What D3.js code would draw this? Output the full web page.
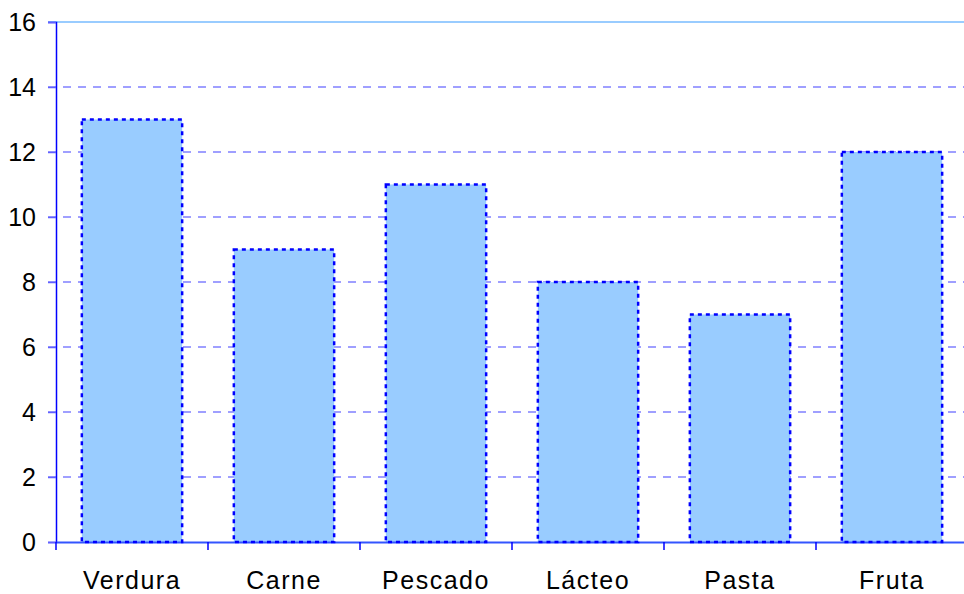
<!DOCTYPE html>
<html>
<head>
<meta charset="utf-8">
<script src="https://cdn.jsdelivr.net/npm/d3@7"></script>
<style>
  body { margin: 0; background: #fff; }
  text { font-family: "Liberation Sans", Arial, sans-serif; }
</style>
</head>
<body>
<svg width="964" height="594"></svg>
<script>
"use strict"

// data
let categories = ["Verdura", "Carne", "Pescado", "Lácteo", "Pasta", "Fruta"]
let values = [13, 9, 11, 8, 7, 12]
let yTicks = [0, 2, 4, 6, 8, 10, 12, 14, 16]

let svg = d3.select("svg")

let x = d3.scaleBand().domain(categories).range([56, 968]).paddingInner(0.34).paddingOuter(0.17),
    y = d3.scaleLinear().domain([0, 16]).range([542, 22])

// gridlines
svg.selectAll(".grid")
    .data(yTicks.filter(t => t > 0))
    .enter().append("line")
    .attr("x1", 48).attr("x2", 964)
    .attr("y1", d => y(d)).attr("y2", d => y(d))
    .attr("stroke", d => d === 16 ? "#99ccff" : "#8080ff")
    .attr("stroke-width", d => d === 16 ? 2 : 1.5)
    .attr("stroke-dasharray", d => d === 16 ? null : "8,7")

// y axis
let yAxis = svg.append("g")
    .attr("transform", "translate(56,0)")
    .call(d3.axisLeft(y).tickValues(yTicks).tickSize(8).tickPadding(12).tickFormat(d3.format("d")))
yAxis.select(".domain").attr("stroke", "#0000ff").attr("stroke-width", 1.5)
yAxis.selectAll(".tick line").attr("stroke", "#6060ff").attr("stroke-width", 1.5)
yAxis.selectAll("text").style("font-size", "25px").attr("fill", "#000")

// bars
svg.selectAll(".bar")
    .data(values)
    .enter().append("rect")
    .attr("class", "bar")
    .attr("x", (d, i) => x(categories[i]))
    .attr("y", d => y(d))
    .attr("width", x.bandwidth())
    .attr("height", d => y(0) - y(d))
    .attr("fill", "#99ccff")

// x axis
let xAxis = svg.append("g")
    .attr("transform", "translate(0,542)")
    .call(d3.axisBottom(x).tickSize(0).tickPadding(29))
xAxis.select(".domain").attr("stroke", "#3355ff").attr("stroke-width", 2)
xAxis.selectAll("text")
    .style("font-size", "25px")
    .style("letter-spacing", "1.5px")
    .attr("fill", "#000")

// category boundary ticks
let bounds = categories.map(c => x(c) - x.step() * x.paddingInner() / 2)
svg.selectAll(".xtick")
    .data(bounds)
    .enter().append("line")
    .attr("x1", d => d).attr("x2", d => d)
    .attr("y1", 542).attr("y2", 550)
    .attr("stroke", "#0000ff").attr("stroke-width", 1.5)

// dotted bar outlines on top
svg.selectAll(".outline")
    .data(values)
    .enter().append("rect")
    .attr("x", (d, i) => x(categories[i]))
    .attr("y", d => y(d))
    .attr("width", x.bandwidth())
    .attr("height", d => y(0) - y(d))
    .attr("fill", "none")
    .attr("stroke", "#0000ff")
    .attr("stroke-width", 2.5)
    .attr("stroke-dasharray", "4,4")
</script>
</body>
</html>
